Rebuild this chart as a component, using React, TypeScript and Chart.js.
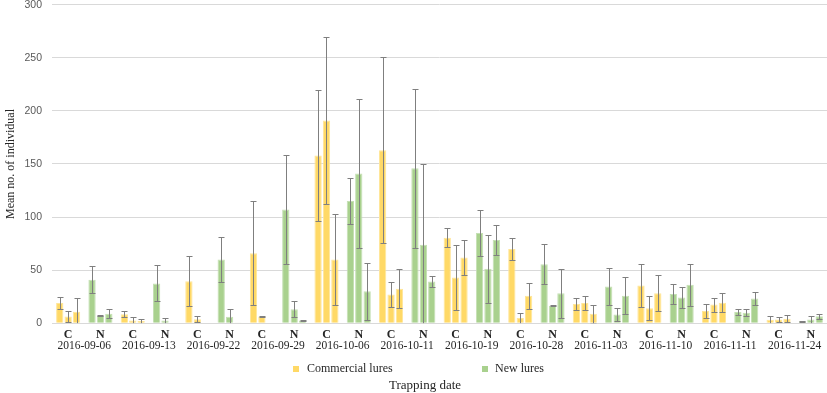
import React, { useEffect, useRef } from 'react';
import { Chart, registerables } from 'chart.js';

Chart.register(...registerables);

// ---- data ----
const dates = [
  '2016-09-06', '2016-09-13', '2016-09-22', '2016-09-29', '2016-10-06', '2016-10-11',
  '2016-10-19', '2016-10-28', '2016-11-03', '2016-11-10', '2016-11-11', '2016-11-24',
];
const lureTypes = ['C', 'N'];
const seriesNames = ['Commercial lures', 'New lures'];
const yTicksMax = 300;
const yTickStep = 50;

// Each array has 24 entries: for every date, C then N
const rep1Means = [19, 41, 8.5, 37.5, 39.5, 60, 66, 107, 158, 115, 163, 146, 80.5, 85, 70, 55.5, 18, 34.5, 35.5, 27.5, 11.5, 10.5, 3.2, 1.9];
const rep1Err = [6, 12.5, 2.8, 17, 23.5, 21.5, 49, 51, 62, 22, 87.5, 75, 9, 22, 10, 19, 5.6, 17.5, 20.7, 9.4, 6.6, 2.8, 3.4, 0.3];
const rep2Means = [6.3, 7, 2.5, 2.5, 3.8, 6, 6.3, 13.2, 191, 141, 27, 74, 43, 51.3, 5, 16.4, 19, 8.2, 14.2, 24.2, 17.6, 9.8, 3.5, 3.5];
const rep2Err = [5, 0.5, 3, 2.5, 2.8, 7, 0.5, 7.5, 79, 70, 12, 76, 31, 32, 5, 0.5, 6.3, 6, 11, 10, 6.6, 3.4, 2.2, 3.5];
const rep3Means = [10.7, 8.9, 2, 0, 0.5, 0.6, 0.5, 2.5, 60, 30, 32.4, 39.3, 62, 78.3, 25.8, 28.3, 8.9, 25.8, 28.3, 36.2, 19.2, 23.3, 4.1, 6.6];
const rep3Err = [13.5, 4.3, 2, 0, 0, 0, 0, 0.5, 43, 27, 18.5, 5.5, 16.4, 14, 12, 23, 8.5, 17.6, 17, 20, 9, 6, 3.4, 2.3];

const meansSets = [rep1Means, rep2Means, rep3Means];
const errSets = [rep1Err, rep2Err, rep3Err];

// ---- styles ----
const C_FILL = '#FFD966';
const C_EDGE = '#FFE699';
const N_FILL = '#A9D18E';
const N_EDGE = '#C5E0B4';
const TEXT = '#262626';
const SERIF = '"Liberation Serif", "Times New Roman", serif';

const categoryLabels: string[] = [];
dates.forEach(() => lureTypes.forEach((t) => categoryLabels.push(t)));
const fills = categoryLabels.map((t) => (t === 'C' ? C_FILL : N_FILL));
const edges = categoryLabels.map((t) => (t === 'C' ? C_EDGE : N_EDGE));

const errorBarPlugin = {
  id: 'errorBars',
  afterDatasetsDraw(chart: any) {
    const ctx = chart.ctx;
    const y = chart.scales.y;
    const area = chart.chartArea;
    ctx.save();
    ctx.beginPath();
    ctx.rect(area.left, area.top - 2, area.right - area.left, area.bottom - area.top + 2);
    ctx.clip();
    ctx.strokeStyle = '#7F7F7F';
    ctx.lineWidth = 1;
    chart.data.datasets.forEach((ds: any, di: number) => {
      const meta = chart.getDatasetMeta(di);
      const errs = errSets[di];
      meta.data.forEach((bar: any, i: number) => {
        const v = ds.data[i];
        const e = errs[i];
        if (!e) return;
        const x = Math.round(bar.x) + 0.5;
        const top = Math.round(y.getPixelForValue(v + e)) + 0.5;
        const low = v - e;
        const bot = Math.round(y.getPixelForValue(Math.max(0, low))) + 0.5;
        const cap = 3;
        ctx.beginPath();
        ctx.moveTo(x, top);
        ctx.lineTo(x, bot);
        ctx.moveTo(x - cap, top);
        ctx.lineTo(x + cap, top);
        if (low > 0) {
          ctx.moveTo(x - cap, bot);
          ctx.lineTo(x + cap, bot);
        }
        ctx.stroke();
      });
    });
    ctx.restore();
  },
};

const legendTitlePlugin = {
  id: 'legendTitle',
  afterDraw(chart: any) {
    const ctx = chart.ctx;
    ctx.save();
    ctx.textBaseline = 'middle';
    ctx.textAlign = 'left';
    ctx.font = `12px ${SERIF}`;
    ctx.fillStyle = C_FILL;
    ctx.fillRect(293, 366, 6, 6);
    ctx.fillStyle = TEXT;
    ctx.fillText(seriesNames[0], 307, 369);
    ctx.fillStyle = N_FILL;
    ctx.fillRect(482, 366, 6, 6);
    ctx.fillStyle = TEXT;
    ctx.fillText(seriesNames[1], 495, 369);
    ctx.font = `13px ${SERIF}`;
    ctx.textAlign = 'center';
    ctx.fillText('Trapping date', 425, 386);
    ctx.restore();
  },
};

export default function App() {
  const ref = useRef<HTMLCanvasElement | null>(null);
  useEffect(() => {
    if (!ref.current) return;
    const chart = new Chart(ref.current, {
      type: 'bar',
      data: {
        labels: categoryLabels,
        datasets: meansSets.map((m, i) => ({
          label: `rep${i + 1}`,
          data: m,
          backgroundColor: fills,
          borderColor: edges,
          borderWidth: 1,
          categoryPercentage: 0.78,
          barPercentage: 0.87,
          xAxisID: 'x',
        })),
      },
      options: {
        animation: false,
        responsive: false,
        layout: { padding: { top: 0, right: 0, bottom: 40, left: 0 } },
        plugins: {
          legend: { display: false },
          tooltip: { enabled: false },
        },
        scales: {
          x: {
            type: 'category',
            position: 'bottom',
            offset: true,
            grid: { display: false, drawTicks: false },
            border: { display: true, color: '#D9D9D9' },
            ticks: {
              padding: 5,
              color: TEXT,
              maxRotation: 0,
              autoSkip: false,
              font: { family: SERIF, size: 12, weight: 'bold' },
            },
            afterFit: (s: any) => {
              s.height = 16;
            },
          },
          x2: {
            type: 'category',
            axis: 'x',
            position: 'bottom',
            labels: dates,
            offset: true,
            grid: { display: false, drawTicks: false },
            border: { display: false },
            ticks: {
              padding: 0,
              color: TEXT,
              maxRotation: 0,
              autoSkip: false,
              font: { family: SERIF, size: 11.5 },
            },
          },
          y: {
            min: 0,
            max: yTicksMax,
            grid: { color: '#D9D9D9', drawTicks: true, tickLength: 10, tickColor: 'rgba(0,0,0,0)' },
            border: { display: false },
            ticks: {
              stepSize: yTickStep,
              padding: 0,
              color: '#595959',
              font: { family: '"Liberation Sans", Arial, sans-serif', size: 10.5, lineHeight: 0.9 },
            },
            title: {
              display: true,
              text: 'Mean no. of individual',
              color: TEXT,
              font: { family: SERIF, size: 12 },
              padding: { top: 4, bottom: 0 },
            },
            afterFit: (s: any) => {
              s.width = 52;
            },
          },
        },
      } as any,
      plugins: [errorBarPlugin, legendTitlePlugin],
    });
    return () => chart.destroy();
  }, []);
  return (
    <div style={{ position: 'absolute', left: 0, top: 0, width: 827, height: 393, background: '#fff' }}>
      <canvas ref={ref} width={827} height={393} style={{ display: 'block' }} />
    </div>
  );
}
